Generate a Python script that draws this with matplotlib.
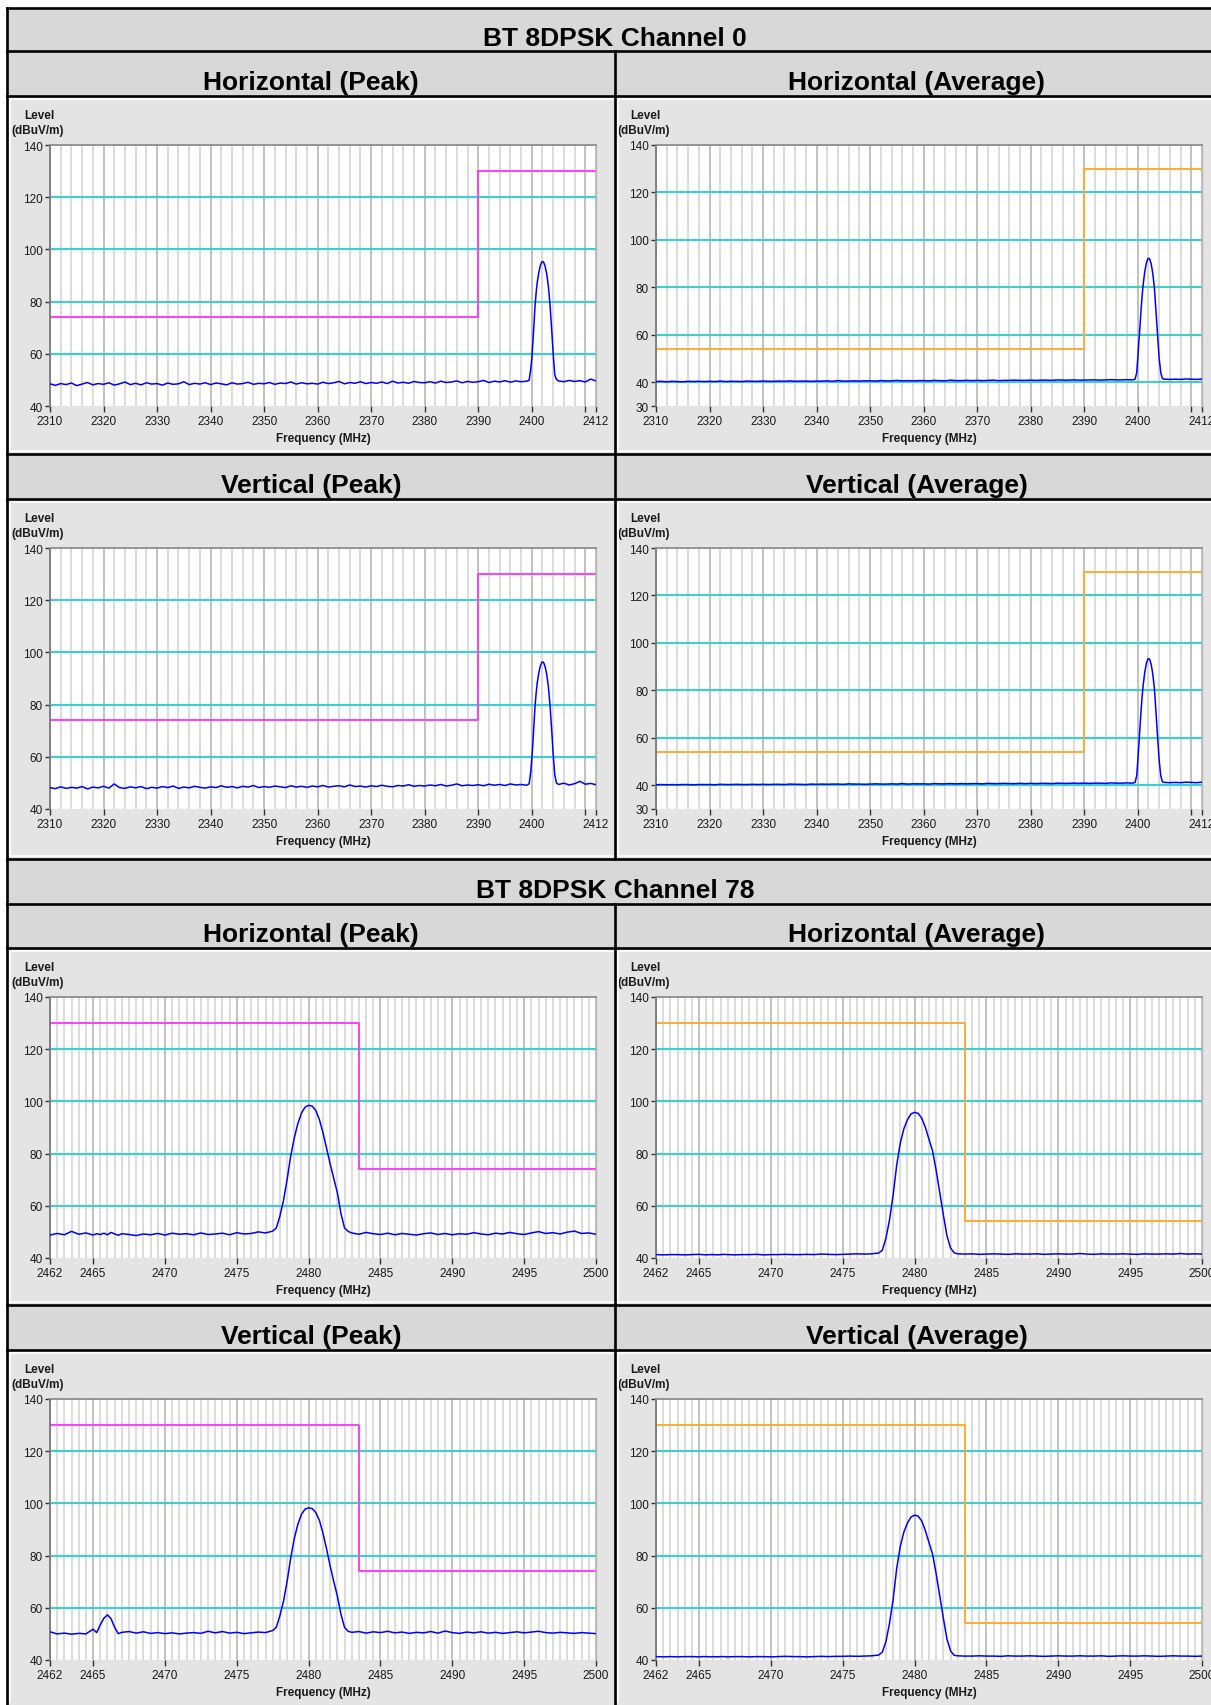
import matplotlib
matplotlib.use("Agg")
import matplotlib.pyplot as plt
from matplotlib.patches import Rectangle
from matplotlib.lines import Line2D
from matplotlib.ticker import MultipleLocator

plt.rcParams['font.family'] = ['Liberation Sans', 'DejaVu Sans']

# ---------------- DATA ----------------
TITLES = ['BT 8DPSK Channel 0', 'BT 8DPSK Channel 78']
PANEL_TITLES = ['Horizontal (Peak)', 'Horizontal (Average)', 'Vertical (Peak)', 'Vertical (Average)']
Y_UNIT = ['Level', '(dBuV/m)']
X_LABEL = 'Frequency (MHz)'

CH0_FREQ = [
    2310, 2311, 2312, 2313, 2314, 2315, 2316, 2317, 2318, 2319,
    2320, 2321, 2322, 2323, 2324, 2325, 2326, 2327, 2328, 2329,
    2330, 2331, 2332, 2333, 2334, 2335, 2336, 2337, 2338, 2339,
    2340, 2341, 2342, 2343, 2344, 2345, 2346, 2347, 2348, 2349,
    2350, 2351, 2352, 2353, 2354, 2355, 2356, 2357, 2358, 2359,
    2360, 2361, 2362, 2363, 2364, 2365, 2366, 2367, 2368, 2369,
    2370, 2371, 2372, 2373, 2374, 2375, 2376, 2377, 2378, 2379,
    2380, 2381, 2382, 2383, 2384, 2385, 2386, 2387, 2388, 2389,
    2390, 2391, 2392, 2393, 2394, 2395, 2396, 2397, 2398, 2399,
    2399.5, 2399.8, 2400.0, 2400.2, 2400.4, 2400.6, 2400.8, 2401.0, 2401.3, 2401.6,
    2401.9, 2402.2, 2402.5, 2402.8, 2403.1, 2403.4, 2403.7, 2404.0, 2404.3, 2404.6,
    2405, 2406, 2407, 2408, 2409, 2410, 2411, 2412]

CH0_H_PEAK = [
    48.5, 47.9, 48.6, 48.2, 48.8, 47.8, 48.4, 49.0, 48.1, 48.6,
    48.3, 48.9, 48.0, 48.5, 49.2, 48.2, 48.7, 48.1, 48.9, 48.4,
    48.6, 48.0, 48.8, 48.3, 48.5, 49.3, 48.2, 48.7, 48.4, 48.9,
    48.2, 48.8, 48.5, 48.1, 48.9, 48.4, 48.6, 49.1, 48.3, 48.7,
    48.5, 49.0, 48.3, 48.8, 48.6, 49.2, 48.4, 48.9, 48.5, 48.7,
    48.4, 49.1, 48.6, 48.9, 49.4, 48.5, 49.0, 48.7, 49.3, 48.6,
    49.0, 48.7, 49.2, 48.6, 49.5, 48.8, 49.1, 48.7, 49.4, 49.0,
    48.9, 49.3, 48.8, 49.5, 49.0, 49.2, 49.6, 48.9, 49.4, 49.1,
    49.3, 49.8, 49.0, 49.5, 49.2, 49.7, 49.1, 49.6, 49.3, 49.5,
    49.8, 54.0, 58.0, 64.0, 71.0, 78.0, 83.0, 87.0, 91.0, 93.8,
    95.3, 95.2, 93.5, 90.5, 86.0, 79.0, 70.0, 60.0, 52.0, 50.2,
    49.6, 49.3, 49.8, 49.4, 49.7, 49.2, 50.3, 49.6]

CH0_H_AVG = [
    40.3, 40.4, 40.2, 40.4, 40.3, 40.2, 40.4, 40.3, 40.4, 40.3,
    40.4, 40.3, 40.5, 40.3, 40.4, 40.4, 40.3, 40.5, 40.4, 40.4,
    40.5, 40.4, 40.4, 40.5, 40.4, 40.6, 40.4, 40.5, 40.5, 40.4,
    40.5, 40.5, 40.6, 40.4, 40.7, 40.5, 40.5, 40.6, 40.5, 40.6,
    40.6, 40.5, 40.7, 40.6, 40.6, 40.8, 40.6, 40.7, 40.6, 40.7,
    40.7, 40.6, 40.8, 40.7, 40.6, 40.9, 40.7, 40.7, 40.8, 40.7,
    40.8, 40.7, 40.8, 40.9, 40.7, 40.8, 40.8, 40.9, 40.8, 40.8,
    40.9, 40.8, 40.9, 40.9, 40.8, 41.0, 40.9, 40.9, 41.0, 40.9,
    40.9, 41.0, 41.0, 40.9, 41.0, 41.1, 41.0, 41.0, 41.1, 41.0,
    41.3, 44.0, 50.0, 57.0, 63.0, 70.0, 76.0, 81.0, 86.5, 90.2,
    92.2, 92.1, 90.0, 86.0, 80.0, 70.0, 60.0, 50.0, 44.0, 41.6,
    41.3, 41.2, 41.3, 41.2, 41.4, 41.3, 41.2, 41.4]

CH0_V_PEAK = [
    48.2, 47.8, 48.5, 47.9, 48.3, 48.0, 48.6, 47.7, 48.4, 48.1,
    48.7, 48.0, 49.6, 48.2, 47.9, 48.5, 48.1, 48.6, 47.8, 48.3,
    48.0, 48.6, 48.2, 48.8, 47.9, 48.4, 48.1, 48.7, 48.3, 48.0,
    48.5, 48.2, 48.9, 48.3, 48.6, 48.1, 48.7, 48.4, 49.0, 48.2,
    48.6, 48.3, 48.8, 48.5, 48.2, 48.9, 48.4, 48.7, 48.3, 48.8,
    48.5, 49.0, 48.4, 48.7, 48.9, 48.5, 49.2, 48.6, 48.8, 48.4,
    48.9, 48.6, 49.1, 48.7, 48.5, 49.0, 48.8, 49.3, 48.7, 49.0,
    48.8, 49.2, 48.9, 49.4, 48.8, 49.1, 49.6, 48.9, 49.2, 49.0,
    49.3, 48.9, 49.5, 49.1, 49.4, 49.0, 49.6, 49.2, 49.4, 49.1,
    49.6, 54.0, 59.0, 65.0, 72.0, 79.0, 84.0, 88.0, 92.0, 94.8,
    96.3, 96.2, 94.5, 91.5, 87.0, 80.0, 71.0, 61.0, 53.0, 50.0,
    49.4, 49.9, 49.2, 49.7, 50.6, 49.5, 49.8, 49.3]

CH0_V_AVG = [
    40.2, 40.3, 40.2, 40.3, 40.2, 40.3, 40.3, 40.2, 40.3, 40.3,
    40.3, 40.2, 40.4, 40.3, 40.3, 40.4, 40.3, 40.3, 40.4, 40.3,
    40.4, 40.3, 40.4, 40.4, 40.3, 40.5, 40.4, 40.4, 40.3, 40.5,
    40.4, 40.5, 40.4, 40.5, 40.5, 40.4, 40.6, 40.5, 40.5, 40.4,
    40.5, 40.6, 40.5, 40.5, 40.6, 40.5, 40.7, 40.5, 40.6, 40.6,
    40.6, 40.5, 40.7, 40.6, 40.6, 40.7, 40.6, 40.7, 40.6, 40.7,
    40.7, 40.6, 40.8, 40.7, 40.7, 40.8, 40.7, 40.7, 40.8, 40.7,
    40.8, 40.7, 40.8, 40.8, 40.7, 40.9, 40.8, 40.8, 40.9, 40.8,
    40.9, 40.8, 40.9, 40.9, 40.8, 41.0, 40.9, 40.9, 41.0, 40.9,
    41.2, 44.0, 50.0, 57.0, 64.0, 71.0, 77.0, 82.0, 87.5, 91.3,
    93.3, 93.2, 91.0, 87.0, 81.0, 71.0, 60.5, 50.5, 44.0, 41.5,
    41.2, 41.1, 41.2, 41.1, 41.3, 41.2, 41.1, 41.3]

CH78_FREQ = [
    2462.0, 2462.5, 2463.0, 2463.5, 2464.0, 2464.5, 2465.0,
    2465.25, 2465.5, 2465.75, 2466.0, 2466.25, 2466.5, 2466.75, 2467.0,
    2467.5, 2468.0, 2468.5, 2469.0, 2469.5, 2470.0, 2470.5, 2471.0, 2471.5, 2472.0,
    2472.5, 2473.0, 2473.5, 2474.0, 2474.5, 2475.0, 2475.5, 2476.0, 2476.5, 2477.0, 2477.5,
    2477.75, 2478.0, 2478.25, 2478.5, 2478.75, 2479.0, 2479.25, 2479.5, 2479.75, 2480.0,
    2480.25, 2480.5, 2480.75, 2481.0, 2481.25, 2481.5, 2481.75, 2482.0, 2482.25, 2482.5, 2482.75,
    2483.0, 2483.5, 2484.0, 2484.5, 2485.0, 2485.5, 2486.0, 2486.5, 2487.0, 2487.5,
    2488.0, 2488.5, 2489.0, 2489.5, 2490.0, 2490.5, 2491.0, 2491.5, 2492.0, 2492.5,
    2493.0, 2493.5, 2494.0, 2494.5, 2495.0, 2495.5, 2496.0, 2496.5, 2497.0, 2497.5,
    2498.0, 2498.5, 2499.0, 2499.5, 2500.0]

CH78_H_PEAK = [
    48.8, 49.4, 48.9, 50.2, 49.1, 49.6, 48.8,
    49.3, 49.0, 49.5, 48.9, 49.8, 49.2, 48.7, 49.3,
    49.0, 48.6, 49.2, 48.9, 49.4, 48.8, 49.5, 49.1, 49.3, 48.9,
    49.6, 49.0, 49.2, 49.5, 48.9, 49.7, 49.2, 49.4, 50.0, 49.6, 50.3,
    51.5, 56.0, 62.0, 70.0, 79.0, 86.0, 91.5, 95.5, 97.8, 98.5,
    98.2, 96.5, 93.0, 88.0, 82.0, 76.0, 70.5, 65.0, 57.0, 51.5, 50.2,
    49.6, 49.1, 49.8, 49.3, 49.0, 49.5, 48.9, 49.4, 49.1, 48.8,
    49.3, 49.6, 49.0, 49.4, 48.9, 49.3, 49.1, 49.7, 49.2, 48.9,
    49.5, 49.2, 49.8, 49.3, 49.0, 49.6, 50.1, 49.4, 49.7, 49.2,
    49.9, 50.3, 49.4, 49.6, 49.1]

CH78_H_AVG = [
    41.3, 41.2, 41.3, 41.3, 41.2, 41.3, 41.4,
    41.3, 41.2, 41.3, 41.3, 41.2, 41.3, 41.4, 41.3,
    41.2, 41.3, 41.3, 41.4, 41.2, 41.3, 41.3, 41.4, 41.3, 41.3,
    41.4, 41.3, 41.5, 41.4, 41.3, 41.4, 41.5, 41.6, 41.5, 41.6, 41.9,
    43.0, 47.5, 54.5, 64.0, 75.5, 84.0, 89.5, 93.0, 95.2, 95.8,
    95.4, 93.5, 90.0, 85.5, 81.0, 73.5, 65.0, 56.5, 48.5, 43.8, 42.0,
    41.6, 41.5, 41.6, 41.4, 41.5, 41.6, 41.5, 41.4, 41.6, 41.5,
    41.5, 41.6, 41.4, 41.5, 41.6, 41.5, 41.5, 41.7, 41.5, 41.4,
    41.6, 41.5, 41.5, 41.6, 41.5, 41.4, 41.6, 41.5, 41.5, 41.6,
    41.5, 41.7, 41.5, 41.6, 41.5]

CH78_V_PEAK = [
    50.8, 50.0, 50.3, 49.9, 50.2, 50.0, 51.8,
    50.5, 53.5, 56.0, 57.3, 55.8, 52.5, 50.1, 50.6,
    50.9, 50.3, 50.8, 50.2, 50.5, 50.1, 50.4, 50.0, 50.3, 50.5,
    50.2, 51.0, 50.4, 50.9, 50.3, 50.6, 50.1, 50.4, 50.7, 50.5, 51.3,
    52.5, 57.0, 62.5, 70.0, 79.0, 86.5, 92.0, 95.8, 97.8, 98.3,
    98.0, 96.5, 93.5, 88.5, 82.5, 76.0, 70.0, 64.5, 57.5, 52.5, 51.0,
    50.6, 50.9, 50.3, 50.8, 50.5, 51.0, 50.4, 50.7, 50.2, 50.6,
    50.4, 50.9, 50.3, 51.1, 50.5, 50.2, 50.7, 50.4, 50.8, 50.3,
    50.6, 50.2, 50.5, 50.8, 50.4, 50.7, 51.0, 50.5, 50.3, 50.6,
    50.4, 50.2, 50.5, 50.3, 50.1]

CH78_V_AVG = [
    41.3, 41.2, 41.3, 41.2, 41.3, 41.3, 41.2,
    41.3, 41.3, 41.2, 41.3, 41.2, 41.3, 41.3, 41.2,
    41.3, 41.3, 41.2, 41.3, 41.3, 41.2, 41.3, 41.4, 41.3, 41.3,
    41.2, 41.3, 41.4, 41.3, 41.4, 41.4, 41.5, 41.4, 41.5, 41.6, 41.9,
    43.0, 47.0, 54.0, 63.0, 75.0, 83.5, 89.0, 92.5, 94.8, 95.5,
    95.1, 93.2, 89.5, 85.0, 80.5, 73.0, 64.5, 56.0, 48.0, 43.5, 41.8,
    41.6, 41.5, 41.5, 41.6, 41.5, 41.5, 41.4, 41.6, 41.5, 41.5,
    41.6, 41.5, 41.4, 41.5, 41.6, 41.5, 41.5, 41.6, 41.5, 41.5,
    41.6, 41.4, 41.5, 41.6, 41.5, 41.5, 41.6, 41.5, 41.4, 41.5,
    41.6, 41.5, 41.5, 41.4, 41.5]

CH0_LIMIT_F = [2310, 2390, 2390, 2412]
CH0_LIMIT_PEAK = [74, 74, 130, 130]
CH0_LIMIT_AVG = [54, 54, 130, 130]
CH78_LIMIT_F = [2462, 2483.5, 2483.5, 2500]
CH78_LIMIT_PEAK = [130, 130, 74, 74]
CH78_LIMIT_AVG = [130, 130, 54, 54]

CH0_XTICKS = [2310, 2320, 2330, 2340, 2350, 2360, 2370, 2380, 2390, 2400, 2410, 2412]
CH0_XTICKLABELS = ['2310', '2320', '2330', '2340', '2350', '2360', '2370', '2380', '2390', '2400', '', '2412']
CH78_XTICKS = [2462, 2465, 2470, 2475, 2480, 2485, 2490, 2495, 2500]
CH78_XTICKLABELS = ['2462', '2465', '2470', '2475', '2480', '2485', '2490', '2495', '2500']
YTICKS_PEAK = [40, 60, 80, 100, 120, 140]
YTICKS_AVG_CH0 = [30, 40, 60, 80, 100, 120, 140]

# ---------------- LAYOUT ----------------
W, H = 1211, 1706
fig = plt.figure(figsize=(W / 100, H / 100), dpi=100)
fig.patch.set_facecolor('white')

HEADER_FC = '#d8d8d8'
PANEL_FC = '#e4e4e4'
BORDER_LW = 1.9


def rect(x0, y0, x1, y1, fc):
    fig.add_artist(Rectangle((x0 / W, 1 - y1 / H), (x1 - x0) / W, (y1 - y0) / H,
                             transform=fig.transFigure, fc=fc, ec='none', zorder=0))


def hline(y, x0, x1, color='black', lw=BORDER_LW):
    fig.add_artist(Line2D([x0 / W, x1 / W], [1 - y / H, 1 - y / H],
                          transform=fig.transFigure, color=color, lw=lw, zorder=5,
                          solid_capstyle='projecting'))


def vline(x, y0, y1, color='black', lw=BORDER_LW):
    fig.add_artist(Line2D([x / W, x / W], [1 - y0 / H, 1 - y1 / H],
                          transform=fig.transFigure, color=color, lw=lw, zorder=5,
                          solid_capstyle='projecting'))


def text(x, y, s, **kw):
    fig.text(x / W, 1 - y / H, s, **kw)


XL, XM, XR = 7, 615, 1219
title_rows = [(9, 52), (860, 905)]
header_rows = [(52, 97), (455, 500), (905, 949), (1306, 1351)]
panel_rows = [(97, 455), (500, 860), (949, 1306), (1351, 1706)]

for (y0, y1), t in zip(title_rows, TITLES):
    rect(XL, y0, W, y1, HEADER_FC)
    text(XM, y1 - 6.5, t, ha='center', va='baseline', fontsize=19, fontweight='bold', color='black')

for i, (y0, y1) in enumerate(header_rows):
    rect(XL, y0, W, y1, HEADER_FC)
    names = PANEL_TITLES[0:2] if i % 2 == 0 else PANEL_TITLES[2:4]
    text((XL + XM) / 2, y1 - 7, names[0], ha='center', va='baseline', fontsize=19,
         fontweight='bold', color='black')
    text((XM + XR) / 2, y1 - 7, names[1], ha='center', va='baseline', fontsize=19,
         fontweight='bold', color='black')

for (y0, y1) in panel_rows:
    rect(XL, y0, W, y1, PANEL_FC)
    hline(y0 + 3, XL + 2, XM - 2, color='white', lw=1.2)
    hline(y0 + 3, XM + 2, W, color='white', lw=1.2)
    vline(XL + 3, y0 + 3, y1 - 3, color='white', lw=1.2)
    vline(XM + 3, y0 + 3, y1 - 3, color='white', lw=1.2)
    if y1 < H:
        hline(y1 - 3, XL + 2, W, color='white', lw=1.2)

# borders
for y in [9, 52, 97, 455, 500, 860, 905, 949, 1306, 1351]:
    hline(y, XL, W)
vline(XL, 9, H)
vline(XM, 52, 860)
vline(XM, 905, H)


def draw(col, prow, freq, level, lim_f, lim_l, lim_color, ylo, yticks, xlim, xticks, xlabels, minor):
    ptop = panel_rows[prow][0]
    if col == 0:
        l, r = 50, 596
        lx1, lx2 = 24, 11
    else:
        l, r = 656, 1202
        lx1, lx2 = 630, 617
    t, b = ptop + 49, ptop + 310
    ax = fig.add_axes([l / W, 1 - b / H, (r - l) / W, (b - t) / H])
    ax.set_facecolor('white')
    ax.set_xlim(*xlim)
    ax.set_ylim(ylo, 140)
    ax.set_xticks(xticks)
    ax.set_xticklabels(xlabels)
    ax.set_yticks(yticks)
    ax.xaxis.set_minor_locator(MultipleLocator(minor))
    ax.set_axisbelow(True)
    ax.grid(True, which='minor', axis='x', color='#dcdcdc', lw=1.4)
    ax.grid(True, which='major', axis='x', color='#b0b0b0', lw=1.1)
    for yv in yticks:
        if ylo < yv < 140:
            ax.axhline(yv, color='#3ccfcf', lw=1.5, zorder=1.5)
    ax.plot(lim_f, lim_l, color=lim_color, lw=1.4, zorder=2)
    ax.plot(freq, level, color='#0000ff', lw=1.1, zorder=3)
    ax.spines['bottom'].set_visible(False)
    ax.spines['top'].set_color('#8c8c8c')
    ax.spines['top'].set_linewidth(1.3)
    ax.spines['left'].set_color('#7a7a7a')
    ax.spines['left'].set_linewidth(1.3)
    ax.spines['right'].set_color('#b8b8b8')
    ax.spines['right'].set_linewidth(1.0)
    ax.tick_params(which='minor', length=0)
    ax.tick_params(axis='x', which='major', direction='out', length=4.5, width=1.0, pad=2,
                   color='#303030', labelsize=8.5, labelcolor='#1a1a1a')
    ax.tick_params(axis='y', which='major', direction='out', length=3.6, width=1.0, pad=1.5,
                   color='#303030', labelsize=8.5, labelcolor='#1a1a1a')
    text(lx1, ptop + 19, Y_UNIT[0], ha='left', va='center', fontsize=8.5, fontweight='bold', color='#1a1a1a')
    text(lx2, ptop + 34, Y_UNIT[1], ha='left', va='center', fontsize=8.5, fontweight='bold', color='#1a1a1a')
    text((l + r) / 2, b + 32, X_LABEL, ha='center', va='center', fontsize=8.5, fontweight='bold', color='#1a1a1a')
    return ax


MAG = '#ff3dff'
ORG = '#ffaa33'
ch0x = (2310, 2412)
ch78x = (2462, 2500)

draw(0, 0, CH0_FREQ, CH0_H_PEAK, CH0_LIMIT_F, CH0_LIMIT_PEAK, MAG, 40, YTICKS_PEAK, ch0x, CH0_XTICKS, CH0_XTICKLABELS, 2)
draw(1, 0, CH0_FREQ, CH0_H_AVG, CH0_LIMIT_F, CH0_LIMIT_AVG, ORG, 30, YTICKS_AVG_CH0, ch0x, CH0_XTICKS, CH0_XTICKLABELS, 2)
draw(0, 1, CH0_FREQ, CH0_V_PEAK, CH0_LIMIT_F, CH0_LIMIT_PEAK, MAG, 40, YTICKS_PEAK, ch0x, CH0_XTICKS, CH0_XTICKLABELS, 2)
draw(1, 1, CH0_FREQ, CH0_V_AVG, CH0_LIMIT_F, CH0_LIMIT_AVG, ORG, 30, YTICKS_AVG_CH0, ch0x, CH0_XTICKS, CH0_XTICKLABELS, 2)
draw(0, 2, CH78_FREQ, CH78_H_PEAK, CH78_LIMIT_F, CH78_LIMIT_PEAK, MAG, 40, YTICKS_PEAK, ch78x, CH78_XTICKS, CH78_XTICKLABELS, 0.5)
draw(1, 2, CH78_FREQ, CH78_H_AVG, CH78_LIMIT_F, CH78_LIMIT_AVG, ORG, 40, YTICKS_PEAK, ch78x, CH78_XTICKS, CH78_XTICKLABELS, 0.5)
draw(0, 3, CH78_FREQ, CH78_V_PEAK, CH78_LIMIT_F, CH78_LIMIT_PEAK, MAG, 40, YTICKS_PEAK, ch78x, CH78_XTICKS, CH78_XTICKLABELS, 0.5)
draw(1, 3, CH78_FREQ, CH78_V_AVG, CH78_LIMIT_F, CH78_LIMIT_AVG, ORG, 40, YTICKS_PEAK, ch78x, CH78_XTICKS, CH78_XTICKLABELS, 0.5)

fig.savefig('out.png', dpi=100, facecolor='white')
